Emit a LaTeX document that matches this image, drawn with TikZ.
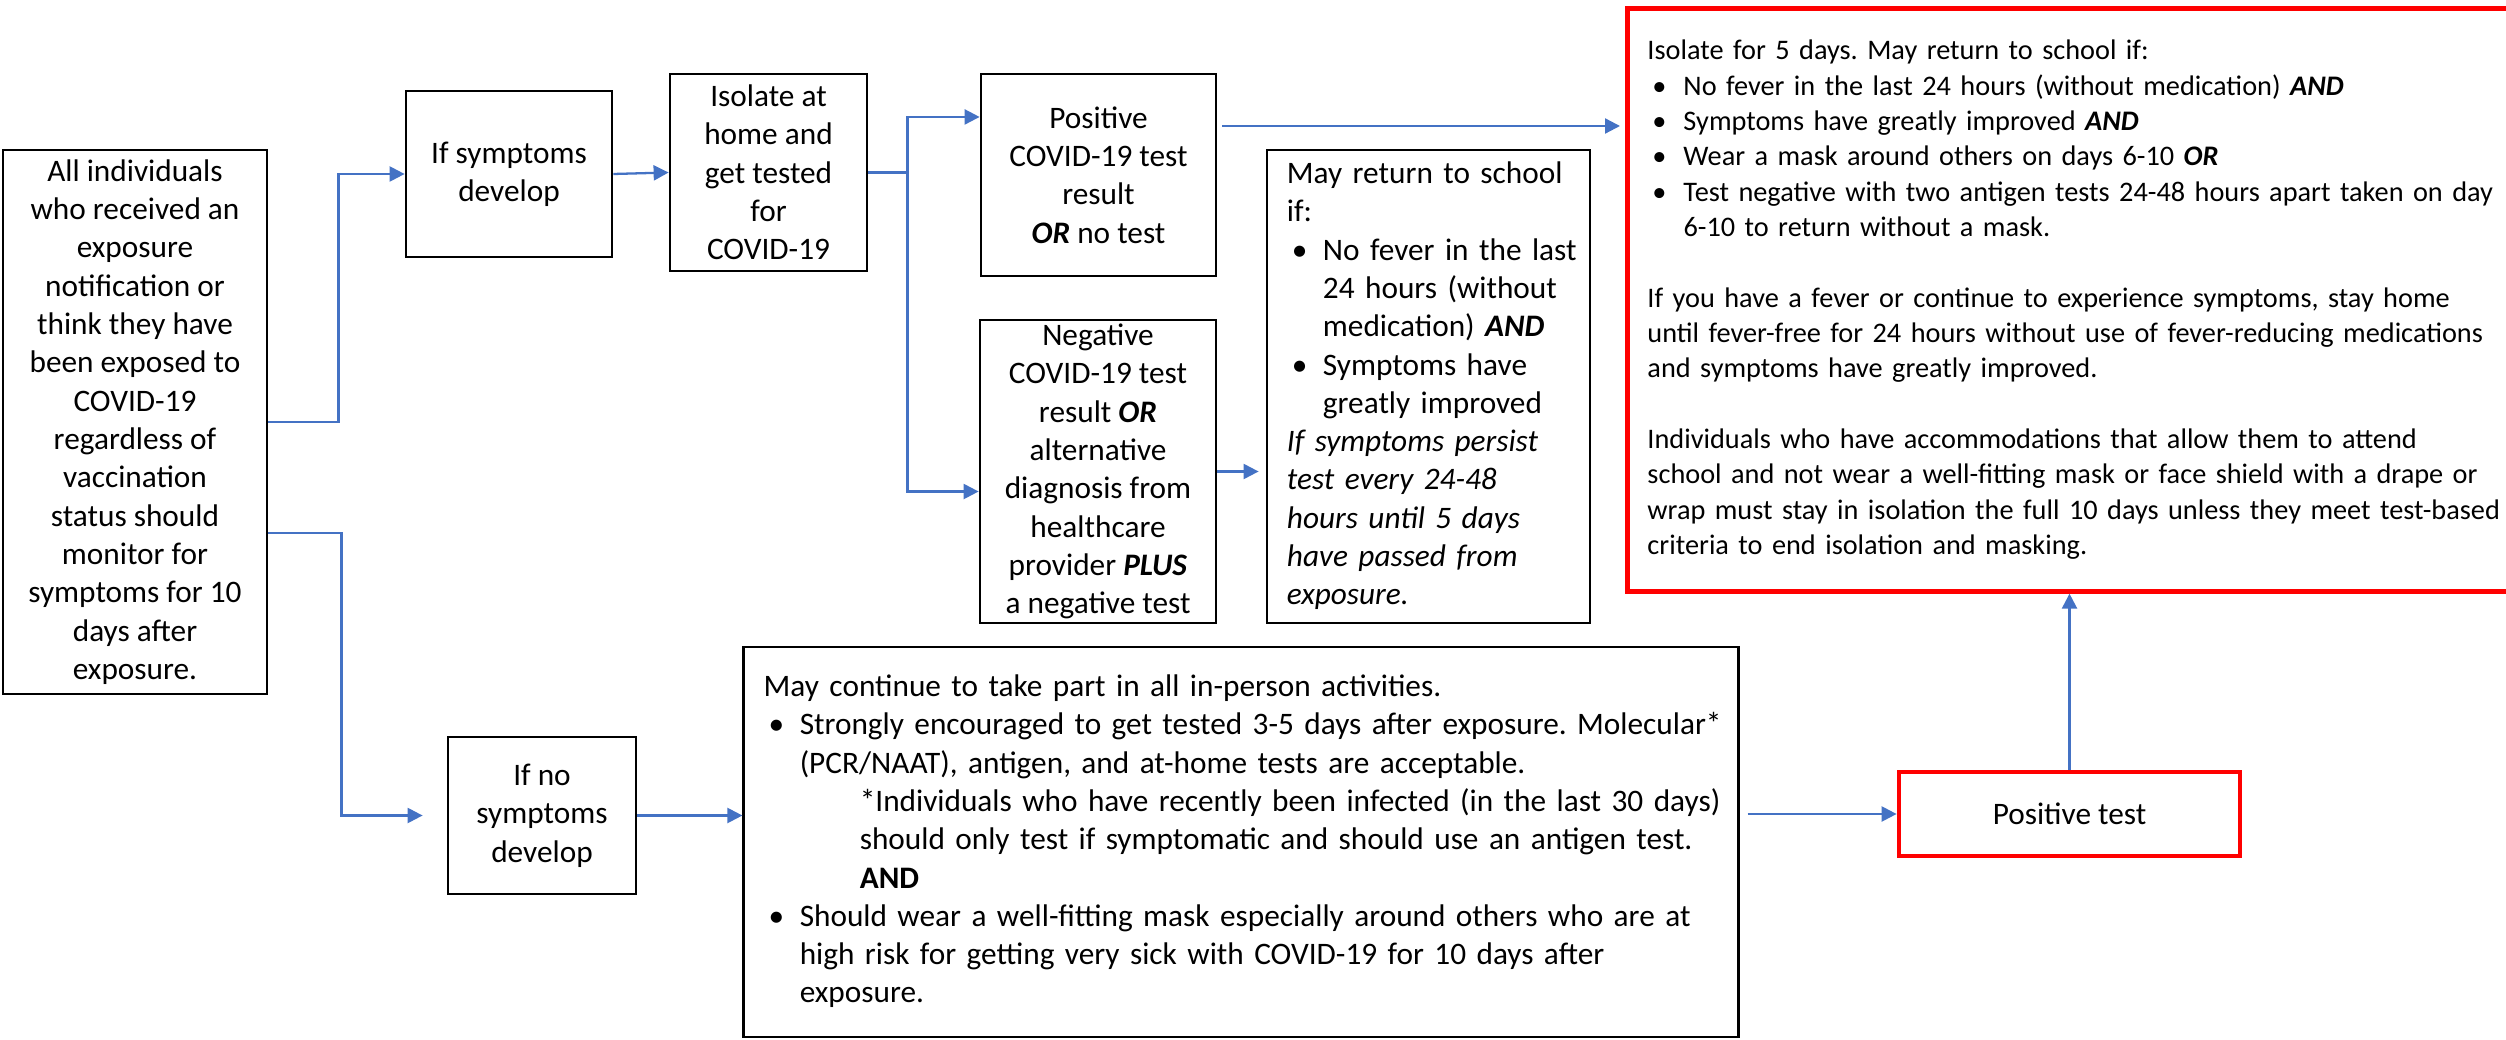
\documentclass[tikz,border=0pt]{standalone}
\usepackage{fontspec}
\setmainfont{Carlito}
\usetikzlibrary{arrows.meta}
\frenchspacing
\definecolor{flowblue}{HTML}{4472C4}
\newcommand{\kw}[1]{\textbf{\textit{#1}}}
\newcommand{\bul}{\makebox[0.36cm][l]{\hspace{0.05cm}\textbullet}}
\newcommand{\bulind}{\hspace*{0.36cm}}
\newcommand{\noteind}{\hspace*{0.96cm}}
\newcommand{\leftlines}[1]{\begin{tabular}{@{}l@{}}#1\end{tabular}}
\tikzset{
	box/.style={draw=black, line width=0.75pt, inner sep=0pt, align=center, font=\fontsize{8.9}{10.9}\selectfont},
	textbox/.style={box, align=left, inner xsep=0.2cm},
	redbox/.style={draw=red, line width=1.4pt, inner sep=0pt, align=left, inner xsep=0.2cm},
	flow/.style={draw=flowblue, line width=0.65pt, -{Triangle[length=0.15cm,width=0.15cm]}}
}
\begin{document}
\begin{tikzpicture}[x=0.01cm, y=-0.01cm]
		\useasboundingbox (0,0) rectangle (2506,1040);
		\node[box, minimum width=2.64cm, minimum height=5.44cm](exposed) at (135,422){All individuals\\who received an\\exposure\\notification or\\think they have\\been exposed to\\COVID-19\\regardless of\\vaccination\\status should\\monitor for\\symptoms for 10\\days after\\exposure.};
		\node[box, minimum width=2.06cm, minimum height=1.66cm](sym) at (509,174){If symptoms\\develop};
		\node[box, minimum width=1.97cm, minimum height=1.97cm](iso) at (768.5,172.5){Isolate at\\home and\\get tested\\for\\COVID-19};
		\node[box, minimum width=2.35cm, minimum height=2.02cm](pos) at (1098.5,175){Positive\\COVID-19 test\\result\\\kw{OR} no test};
		\node[box, minimum width=2.36cm, minimum height=3.03cm](neg) at (1098,471.5){Negative\\COVID-19 test\\result \kw{OR}\\alternative\\diagnosis from\\healthcare\\provider \kw{PLUS}\\a negative test};
		\node[textbox, text width=2.83cm, minimum height=4.73cm](ret) at (1428.5,386.5){\leftlines{May return to school\\if:\\\bul No fever in the last\\\bulind 24 hours (without\\\bulind medication) \kw{AND}\\\bul Symptoms have\\\bulind greatly improved\\\textit{If symptoms persist}\\\textit{test every 24-48}\\\textit{hours until 5 days}\\\textit{have passed from}\\\textit{exposure.}}};
		\node[redbox, anchor=west, text width=8.55cm, minimum height=5.82cm, font=\fontsize{8.05}{10.05}\selectfont](iso5) at (1625,300){\leftlines{Isolate for 5 days. May return to school if:\\\bul No fever in the last 24 hours (without medication) \kw{AND}\\\bul Symptoms have greatly improved \kw{AND}\\\bul Wear a mask around others on days 6-10 \kw{OR}\\\bul Test negative with two antigen tests 24-48 hours apart taken on day\\\bulind 6-10 to return without a mask.\\[10.05pt]If you have a fever or continue to experience symptoms, stay home\\until fever-free for 24 hours without use of fever-reducing medications\\and symptoms have greatly improved.\\[10.05pt]Individuals who have accommodations that allow them to attend\\school and not wear a well-fitting mask or face shield with a drape or\\wrap must stay in isolation the full 10 days unless they meet test-based\\criteria to end isolation and masking.}};
		\node[box, minimum width=1.88cm, minimum height=1.57cm](nosym) at (542,815.5){If no\\symptoms\\develop};
		\node[textbox, text width=9.54cm, minimum height=3.9cm](cont) at (1241,842){\leftlines{May continue to take part in all in-person activities.\\\bul Strongly encouraged to get tested 3-5 days after exposure. Molecular*\\\bulind (PCR/NAAT), antigen, and at-home tests are acceptable.\\\noteind *Individuals who have recently been infected (in the last 30 days)\\\noteind should only test if symptomatic and should use an antigen test.\\\noteind \textbf{AND}\\\bul Should wear a well-fitting mask especially around others who are at\\\bulind high risk for getting very sick with COVID-19 for 10 days after\\\bulind exposure.}};
		\node[redbox, align=center, inner sep=0pt, line width=1.3pt, minimum width=3.41cm, minimum height=0.84cm, font=\fontsize{8.9}{10.9}\selectfont](postest) at (2069.5,814){Positive test};
		\draw[flow] (exposed.east) -- ++(70,0) |- (sym.west);
		\draw[flow, shorten >=0.24cm] ([yshift=-1.11cm]exposed.east) -- ++(73,0) |- (nosym.west);
		\draw[flow] (sym.east) -- (iso.west);
		\draw[flow] (iso.east) -- ++(39,0) |- ([yshift=0.58cm]pos.west);
		\draw[flow] (iso.east) -- ++(39,0) |- ([yshift=-0.2cm]neg.west);
		\draw[flow, shorten <=0.05cm, shorten >=0.05cm] (pos.east |- 0,126) -- (iso5.west |- 0,126);
		\draw[flow, shorten >=0.07cm] (neg.east) -- (ret.west |- neg.east);
		\draw[flow] (nosym.east) -- (cont.west |- nosym.east);
		\draw[flow, shorten <=0.08cm] (cont.east |- postest.west) -- (postest.west);
		\draw[flow] (postest.north) -- (postest.north |- iso5.south);
	\end{tikzpicture}
\end{document}
